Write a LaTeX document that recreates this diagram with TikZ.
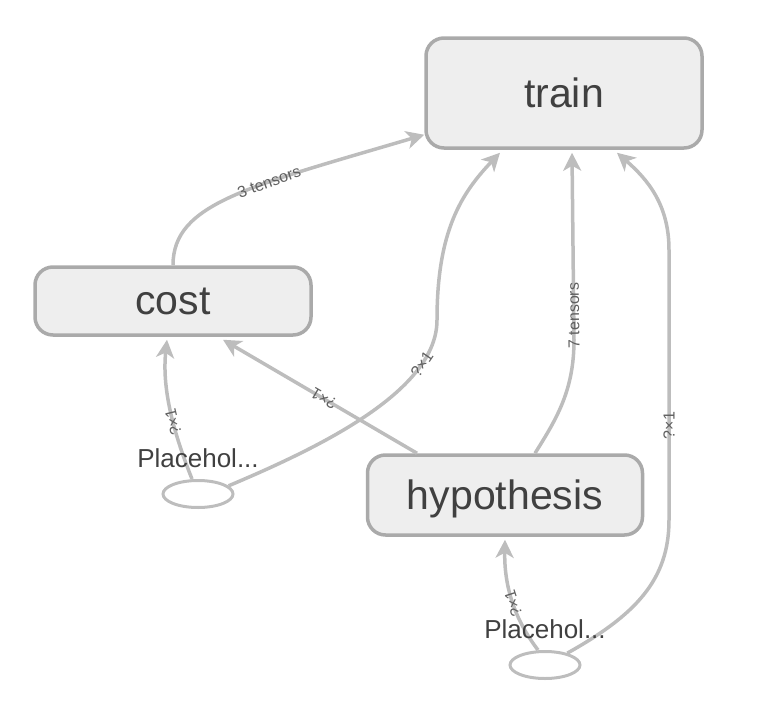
\documentclass[tikz,border=0pt]{standalone}
\usepackage{fontspec}
\setmainfont{Liberation Sans}
\usetikzlibrary{arrows.meta,shapes.geometric}
\definecolor{opfill}{HTML}{EEEEEE}
\definecolor{opline}{HTML}{AAAAAA}
\definecolor{flowline}{HTML}{BDBDBD}
\definecolor{optext}{HTML}{404040}
\definecolor{lbltext}{HTML}{606060}
\begin{document}
\begin{tikzpicture}[x=1pt, y=-1pt,
  op/.style={draw=opline, line width=3.5pt, fill=opfill, rounded corners=18pt, text=optext, font=\fontsize{41}{41}\selectfont, inner sep=0pt, text depth=0pt},
  ph/.style={ellipse, draw=flowline, line width=3pt, minimum width=70pt, minimum height=27pt, inner sep=0pt},
  phtext/.style={text=optext, font=\fontsize{26}{26}\selectfont, inner sep=0pt},
  flow/.style={draw=flowline, line width=3.5pt, -{Stealth[length=18pt, width=18pt, inset=5pt]}},
  lbl/.style={sloped, allow upside down, text=lbltext, font=\fontsize{16}{16}\selectfont, inner sep=0pt}]
\useasboundingbox (0,0) rectangle (769,704);
\node[op, minimum width=276pt, minimum height=110pt] (train) at (564,93) {train};
\node[op, minimum width=276pt, minimum height=68pt] (cost) at (173,301) {cost};
\node[op, minimum width=275pt, minimum height=80pt] (hypo) at (505,495) {hypothesis};
\node[ph] (ph0) at (198,494) {};
\node[ph] (ph1) at (545,665) {};
\draw[flow] (cost.north) .. controls +(0,-62) and +(-176,52) .. node[lbl, pos=0.63] {3 tensors} ([yshift=15pt]train.south west);
\draw[flow] (ph0.15) .. controls +(95,-40) and +(0,70) .. node[lbl, pos=0.78] {?×1} (437,320)
  .. controls +(0,-90) and +(-38,40) .. ([xshift=-64pt, yshift=-3pt]train.south);
\draw[flow] ([xshift=-6pt]ph0.north) .. controls +(-20,-50) and +(-5,47) .. node[lbl, pos=0.4] {?×1} ([xshift=-6pt, yshift=-3pt]cost.south);
\draw[flow] ([xshift=-88pt]hypo.north) -- node[lbl, pos=0.48] {?×1} ([xshift=50pt, yshift=-3pt]cost.south);
\draw[flow] ([xshift=30pt]hypo.north) .. controls +(22,-35) and +(0,50) .. (574,340)
  -- node[lbl, pos=0.13] {7 tensors} ([xshift=8pt, yshift=-3pt]train.south);
\draw[flow] (ph1.28) .. controls +(68,-38) and +(0,60) .. (669,520)
  -- node[lbl, pos=0.35] {?×1} (669,250)
  .. controls +(0,-45) and +(31,27) .. ([xshift=53pt, yshift=-3pt]train.south);
\draw[flow] ([xshift=-7pt]ph1.north) .. controls +(-23,-30) and +(-1,47) .. node[lbl, pos=0.48] {?×1} ([yshift=-3pt]hypo.south);
\node[phtext] (ph0txt) at (198,458) {Placehol...};
\node[phtext] (ph1txt) at (545,629) {Placehol...};
\end{tikzpicture}
\end{document}
